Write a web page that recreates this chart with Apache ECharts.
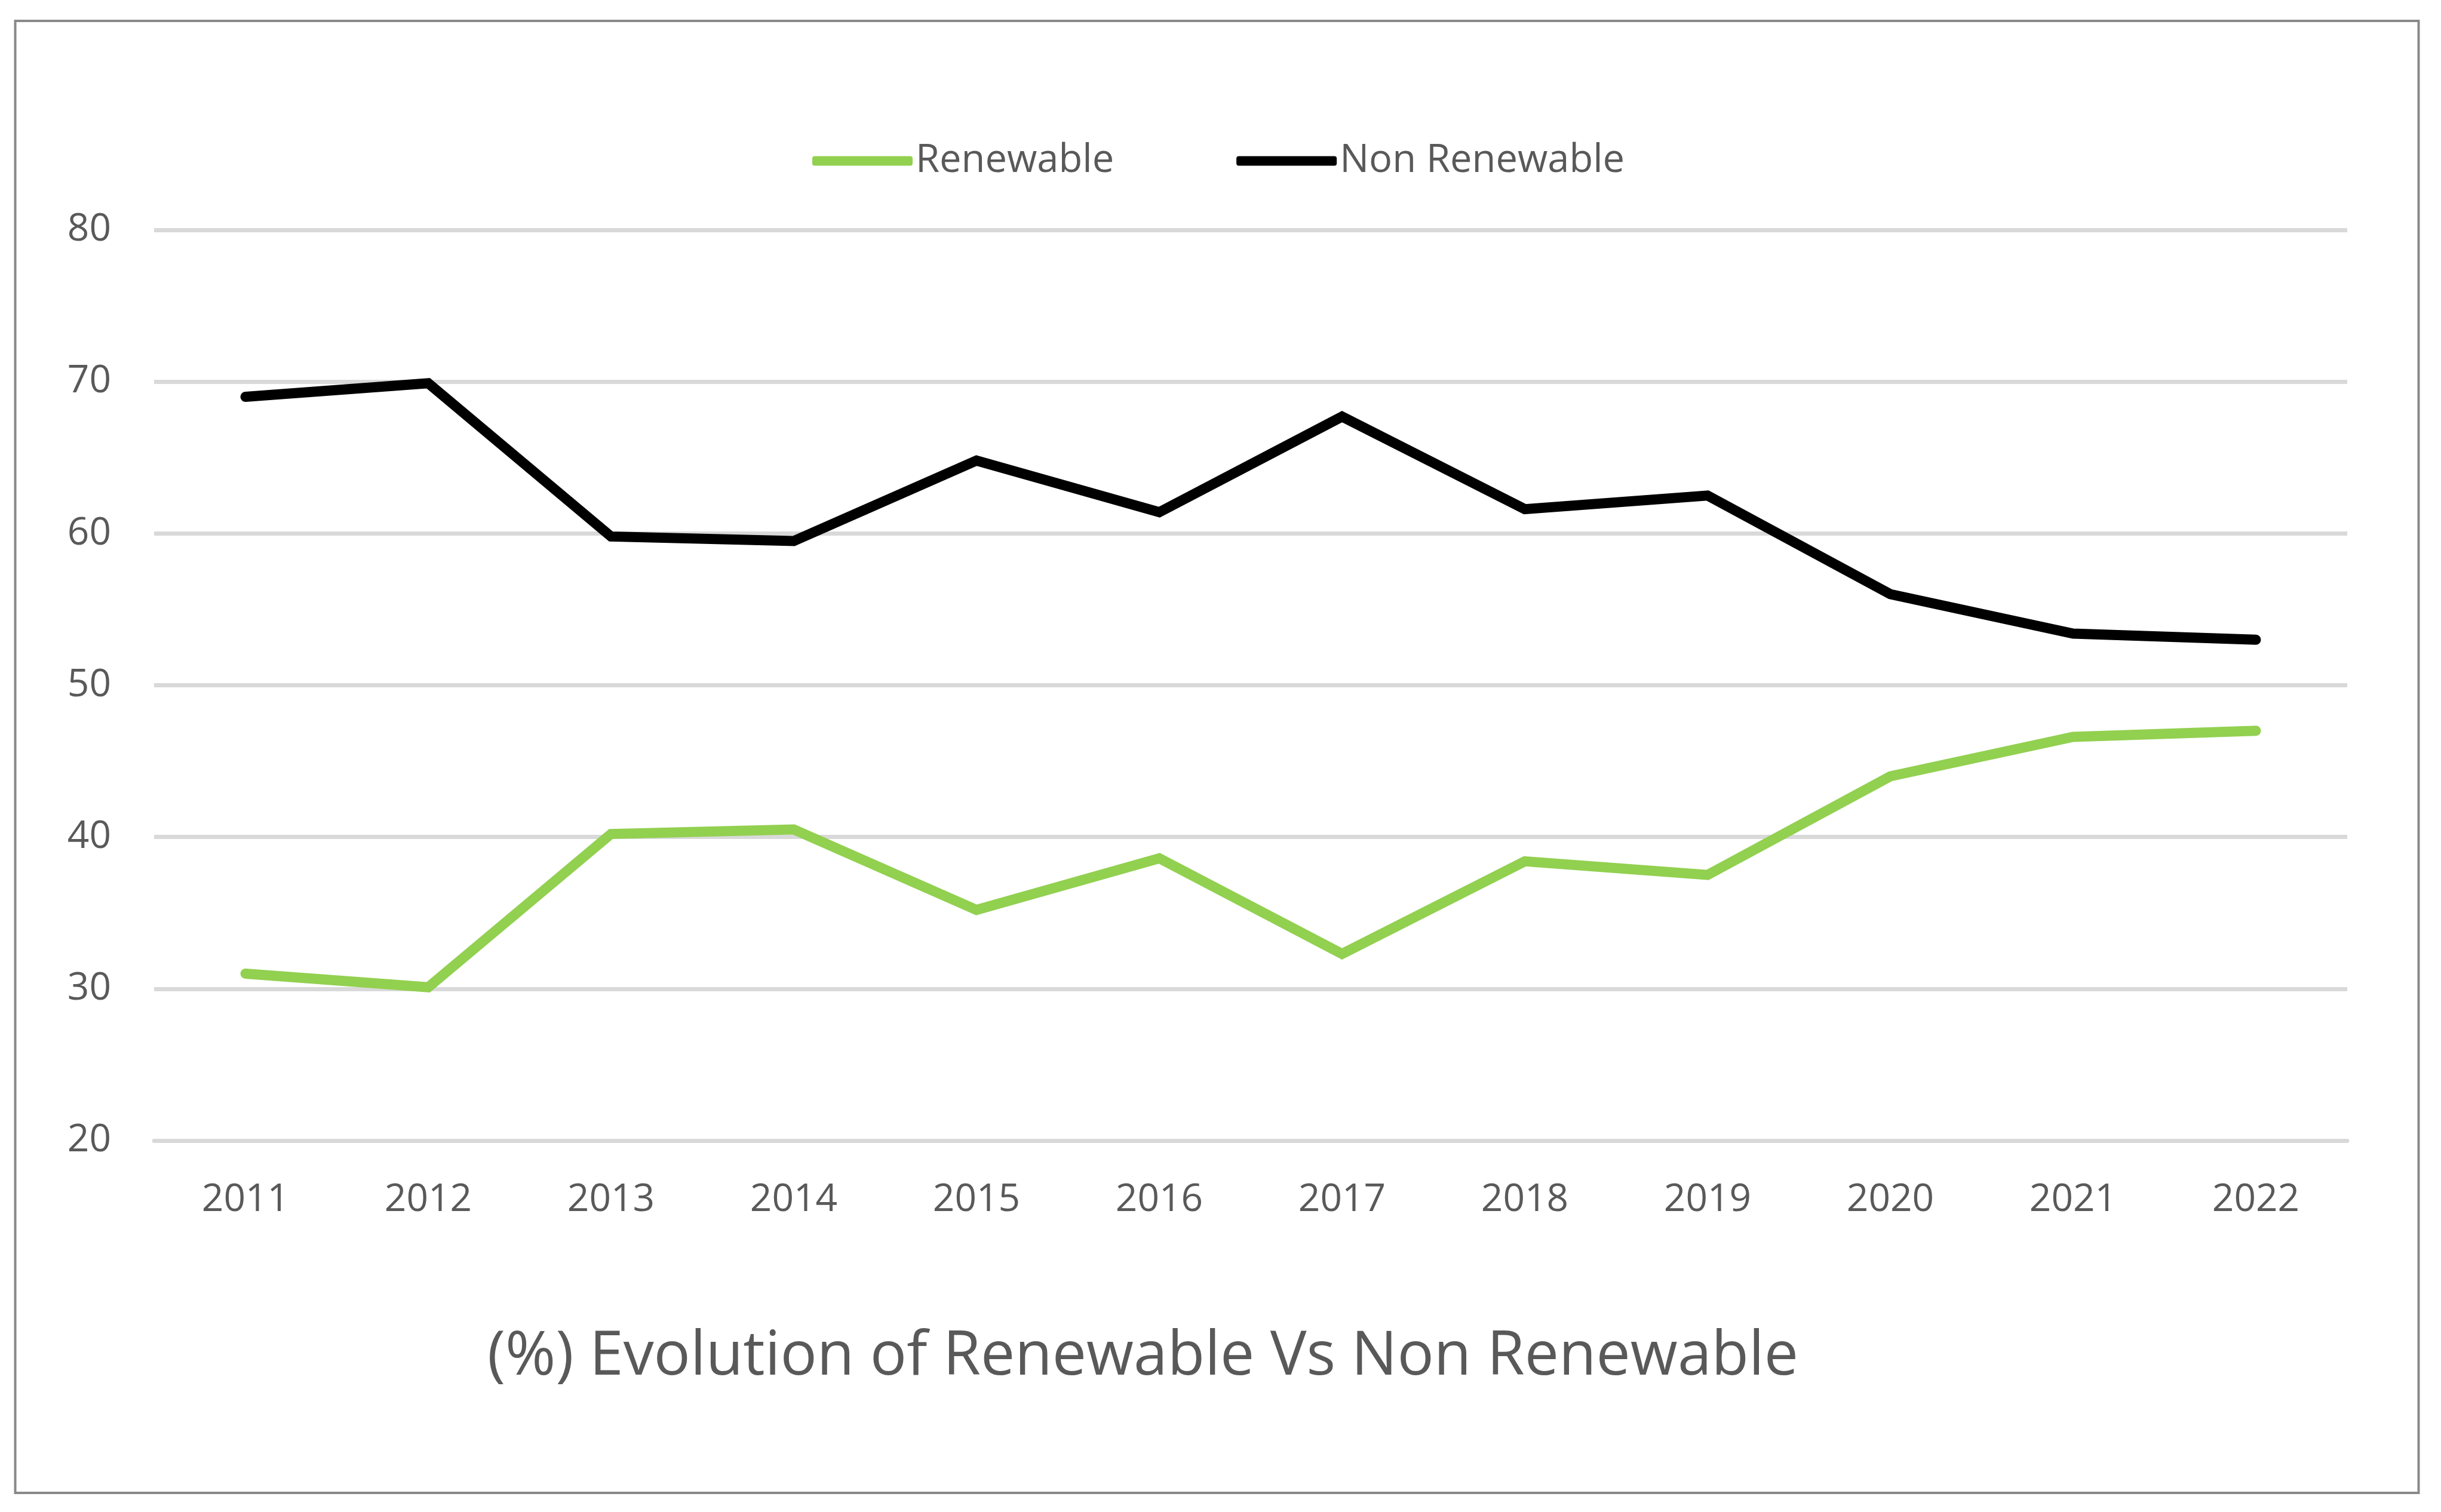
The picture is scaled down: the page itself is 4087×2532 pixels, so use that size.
<!DOCTYPE html>
<html>
<head>
<meta charset="utf-8">
<script src="https://cdn.jsdelivr.net/npm/echarts@6/dist/echarts.min.js"></script>
<style>html,body{margin:0;padding:0;background:#fff;}#c{width:4087px;height:2532px;}</style>
</head>
<body>
<div id="c"></div>
<script>
var years = ['2011','2012','2013','2014','2015','2016','2017','2018','2019','2020','2021','2022'];
var renewable = [31.0, 30.1, 40.2, 40.5, 35.2, 38.6, 32.3, 38.4, 37.5, 44.0, 46.6, 47.0];
var nonRenewable = [69.0, 69.9, 59.8, 59.5, 64.8, 61.4, 67.7, 61.6, 62.5, 56.0, 53.4, 53.0];
var seriesNames = ['Renewable', 'Non Renewable'];
var titleText = '(%) Evolution of Renewable Vs Non Renewable';

var chart = echarts.init(document.getElementById('c'));
var font = 'Open Sans';
chart.setOption({
  backgroundColor: '#ffffff',
  animation: false,
  title: {
    text: titleText,
    left: 816,
    top: 2222,
    padding: 0,
    textStyle: {fontFamily: font, fontSize: 102, fontWeight: 'normal', color: '#595959'}
  },
  legend: {
    data: seriesNames,
    top: 232,
    left: 1355,
    itemWidth: 168,
    itemHeight: 16,
    itemGap: 205,
    icon: 'roundRect',
    textStyle: {fontFamily: font, fontSize: 65, color: '#595959', padding: [0,0,0,0]}
  },
  grid: {left: 258, right: 157, top: 385, bottom: 622, containLabel: false},
  xAxis: {
    type: 'category',
    data: years,
    boundaryGap: true,
    axisLine: {show: true, lineStyle: {color: '#d9d9d9', width: 7}},
    axisTick: {show: false},
    axisLabel: {fontFamily: font, fontSize: 64, color: '#595959', margin: 68}
  },
  yAxis: {
    type: 'value',
    min: 20,
    max: 80,
    interval: 10,
    axisLine: {show: false},
    axisTick: {show: false},
    axisLabel: {fontFamily: font, fontSize: 64, color: '#595959', margin: 72},
    splitLine: {show: true, lineStyle: {color: '#d9d9d9', width: 7}}
  },
  series: [
    {
      name: seriesNames[0], type: 'line', data: renewable, symbol: 'none',
      itemStyle: {color: '#92d050'},
      lineStyle: {color: '#92d050', width: 17, cap: 'round', join: 'miter'}
    },
    {
      name: seriesNames[1], type: 'line', data: nonRenewable, symbol: 'none',
      itemStyle: {color: '#000000'},
      lineStyle: {color: '#000000', width: 17, cap: 'round', join: 'miter'}
    }
  ],
  graphic: [{
    type: 'rect', silent: true,
    shape: {x: 25.5, y: 35, width: 4024, height: 2465},
    style: {fill: 'none', stroke: '#898989', lineWidth: 4}
  }]
});
</script>
</body>
</html>
